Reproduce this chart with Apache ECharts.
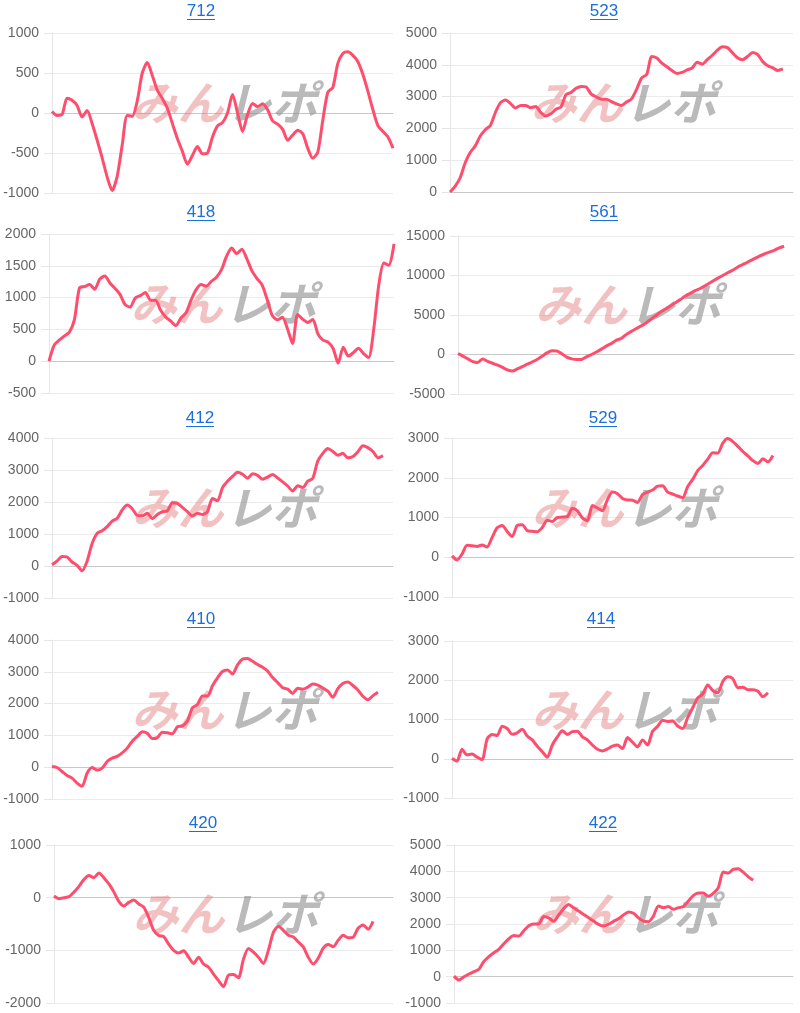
<!DOCTYPE html>
<html><head><meta charset="utf-8">
<script src="https://cdn.jsdelivr.net/npm/echarts@6/dist/echarts.min.js"></script>
<style>html,body{margin:0;padding:0;background:#fff}#c{width:800px;height:1013px}</style>
</head><body><div id="c"></div>
<script>
// ---- data ----
const titles = ['712', '523', '418', '561', '412', '529', '410', '414', '420', '422'];

const s712 = [20,-30,-20,185,160,95,-50,30,-130,-340,-560,-800,-970,-790,-400,-30,-40,150,500,630,470,285,180,60,-130,-320,-480,-640,-530,-420,-510,-500,-300,-160,-120,0,230,0,-230,-20,120,80,115,40,-100,-140,-205,-340,-275,-215,-260,-440,-565,-490,-90,260,320,620,745,765,720,640,480,270,40,-160,-230,-300,-440];
const s523 = [0,180,440,910,1240,1450,1760,1960,2090,2500,2810,2890,2780,2640,2720,2720,2650,2690,2500,2390,2460,2600,2680,3060,3130,3260,3320,3300,3080,2990,2920,2920,2840,2770,2720,2830,2930,3230,3590,3700,4260,4210,4050,3940,3820,3730,3760,3840,3900,4080,4020,4160,4300,4460,4570,4540,4380,4220,4160,4260,4390,4320,4100,3970,3900,3820,3870];
const s418 = [0,250,330,395,455,650,1150,1175,1205,1130,1290,1340,1230,1145,1050,890,850,995,1030,1080,960,960,800,695,630,560,680,760,960,1125,1205,1180,1255,1320,1440,1650,1780,1690,1760,1610,1420,1300,1200,970,720,650,690,510,280,735,660,610,655,430,330,300,200,-30,220,80,135,205,120,60,500,1200,1545,1510,1845];
const s561 = [130,-210,-550,-900,-1000,-570,-870,-1110,-1350,-1630,-1950,-2100,-1830,-1540,-1230,-950,-640,-230,200,460,450,100,-330,-550,-640,-620,-290,0,320,680,1060,1380,1790,2030,2510,2900,3260,3590,3970,4430,4900,5370,5760,6150,6540,6950,7400,7740,8080,8350,8710,9080,9450,9810,10160,10490,10830,11210,11500,11820,12140,12460,12720,12950,13180,13500,13700];
const s412 = [40,150,300,280,125,20,-150,150,700,1020,1100,1230,1400,1490,1750,1905,1790,1580,1570,1650,1480,1610,1695,1720,1980,1960,1830,1700,1560,1650,1610,1700,2110,2040,2450,2650,2800,2930,2865,2740,2880,2830,2710,2780,2860,2750,2630,2500,2345,2510,2450,2650,2740,3280,3520,3670,3580,3460,3520,3380,3420,3570,3760,3700,3580,3380,3450];
const s529 = [35,-70,80,300,290,270,310,260,500,740,800,650,520,800,820,670,655,640,750,930,900,1000,1010,1020,1230,1170,990,920,1300,1240,1170,1450,1640,1600,1480,1440,1435,1380,1580,1640,1690,1790,1800,1640,1590,1540,1500,1780,1960,2180,2310,2470,2630,2620,2870,2985,2910,2790,2660,2550,2430,2360,2480,2400,2560];
const s410 = [20,-10,-135,-260,-345,-500,-600,-190,-10,-90,-30,180,285,340,450,600,815,970,1115,1065,900,930,1100,1080,1050,1270,1300,1450,1870,1970,2240,2240,2560,2810,3010,3055,2930,3220,3400,3420,3330,3230,3140,3020,2820,2660,2500,2455,2320,2480,2450,2520,2620,2580,2490,2390,2200,2470,2630,2680,2570,2430,2230,2120,2250,2355];
const s414 = [15,-60,240,100,120,40,-20,500,620,590,830,770,625,660,750,580,480,320,180,40,350,555,715,620,690,700,560,480,350,240,200,250,320,350,260,540,420,300,480,350,700,825,980,950,960,835,770,1050,1300,1550,1650,1880,1740,1680,1970,2090,2040,1810,1820,1760,1760,1720,1580,1680];
const s420 = [30,-20,0,20,105,215,345,420,380,470,380,260,110,-70,-160,-90,-45,-120,-180,-375,-620,-720,-740,-880,-1000,-1050,-1010,-1130,-1250,-1130,-1260,-1320,-1450,-1575,-1690,-1470,-1460,-1520,-1170,-965,-1035,-1130,-1250,-1000,-660,-545,-620,-715,-745,-840,-935,-1130,-1260,-1150,-960,-890,-930,-810,-715,-760,-750,-580,-520,-600,-450];
const s422 = [20,-130,-5,100,190,280,580,765,910,1040,1250,1440,1560,1540,1740,1930,2000,2000,2285,2230,2100,2340,2580,2740,2615,2490,2365,2240,2110,1985,1920,1990,2100,2200,2340,2460,2410,2235,2110,2090,2300,2680,2620,2660,2560,2620,2660,2870,3080,3180,3180,3050,3160,3370,3970,3935,4070,4100,3970,3800,3660];

const yMin  = [-1000, 0, -500, -5000, -1000, -1000, -1000, -1000, -2000, -1000];
const yMax  = [1000, 5000, 2000, 15000, 4000, 3000, 4000, 3000, 1000, 5000];
const yStep = [500, 1000, 500, 5000, 1000, 1000, 1000, 1000, 1000, 1000];
const xCategories = Array.from({length: 69}, (_, i) => String(i + 1));

const seriesData = [s712, s523, s418, s561, s412, s529, s410, s414, s420, s422];

// ---- layout (styling only) ----
const layout = [
  {l:52,  r:393, t:33,  b:193, cx:201, ty:11},
  {l:450, r:793, t:33,  b:192, cx:604, ty:11},
  {l:49,  r:394, t:234, b:393, cx:201, ty:212},
  {l:458, r:794, t:236, b:394, cx:604, ty:212},
  {l:52,  r:393, t:438, b:598, cx:200, ty:418},
  {l:452, r:793, t:438, b:597, cx:603, ty:418},
  {l:52,  r:393, t:640, b:799, cx:201, ty:619},
  {l:452, r:793, t:641, b:798, cx:601, ty:619},
  {l:54,  r:393, t:845, b:1003, cx:203, ty:823},
  {l:454, r:793, t:845, b:1003, cx:603, ty:823}
];

const LINE = '#ff4d6d';
const LINK = '#1a6fdc';

const grids = [], xAxes = [], yAxes = [], series = [], graphics = [];
layout.forEach((g, i) => {
  grids.push({left: g.l, top: g.t, width: g.r - g.l, height: g.b - g.t});
  xAxes.push({
    gridIndex: i, type: 'category', data: xCategories, boundaryGap: false,
    axisLine: {show: true, onZero: true, lineStyle: {color: '#c8c8c8', width: 1}},
    axisTick: {show: false}, axisLabel: {show: false}, splitLine: {show: false}
  });
  yAxes.push({
    gridIndex: i, type: 'value', min: yMin[i], max: yMax[i], interval: yStep[i],
    axisLine: {show: true, lineStyle: {color: '#e6e6e6'}},
    axisTick: {show: true, length: 8, lineStyle: {color: '#e6e6e6'}},
    axisLabel: {color: '#666', fontSize: 14, fontFamily: '"Liberation Sans", Arial, sans-serif', margin: 13,
                formatter: v => String(v)},
    splitLine: {show: true, lineStyle: {color: '#ebebeb', width: 1}}
  });
  series.push({
    type: 'line', xAxisIndex: i, yAxisIndex: i, data: seriesData[i],
    symbol: 'none', smooth: 0.25, z: 5,
    lineStyle: {color: LINE, width: 3}, itemStyle: {color: LINE}
  });
  // title + underline
  graphics.push({
    type: 'text', x: g.cx, y: g.ty, z: 20,
    style: {text: titles[i], fill: LINK, font: '17px "Liberation Sans", Arial, sans-serif',
            textAlign: 'center', textVerticalAlign: 'middle', align: 'center', verticalAlign: 'middle'}
  });
  graphics.push({
    type: 'line', z: 20,
    shape: {x1: g.cx - 14, y1: g.ty + 8.5, x2: g.cx + 14, y2: g.ty + 8.5},
    style: {stroke: LINK, lineWidth: 1}
  });
  // watermark
  const wx = (g.l + g.r) / 2 + 1, wy = (g.t + g.b) / 2 - 10;
  graphics.push({
    type: 'text', x: wx, y: wy, z: 1,
    style: {text: 'みん', fill: 'rgba(226,120,120,0.45)', font: 'italic bold 46px "Noto Sans CJK JP"',
            textAlign: 'right', textVerticalAlign: 'middle', align: 'right', verticalAlign: 'middle'}
  });
  graphics.push({
    type: 'text', x: wx + 2, y: wy, z: 1,
    style: {text: 'レポ', fill: 'rgba(140,140,140,0.6)', font: 'italic bold 46px "Noto Sans CJK JP"',
            textAlign: 'left', textVerticalAlign: 'middle', align: 'left', verticalAlign: 'middle'}
  });
});

const chart = echarts.init(document.getElementById('c'), null, {renderer: 'canvas'});
chart.setOption({
  animation: false,
  backgroundColor: '#ffffff',
  grid: grids, xAxis: xAxes, yAxis: yAxes, series: series,
  graphic: {elements: graphics}
});
</script></body></html>
